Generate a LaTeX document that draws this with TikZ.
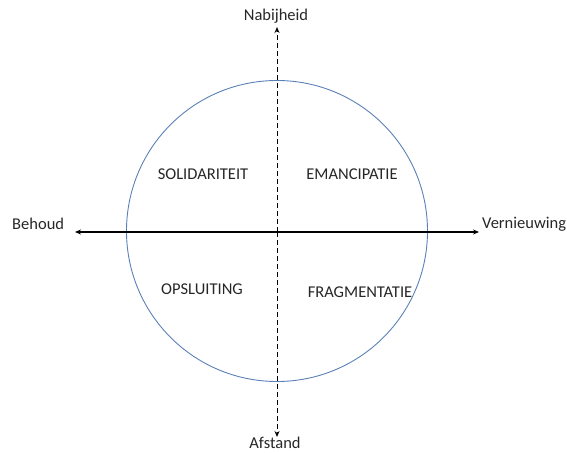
\documentclass[tikz,border=0pt]{standalone}
\usepackage{fontspec}
\setmainfont{Carlito}
\usetikzlibrary{arrows.meta}
\definecolor{circblue}{RGB}{90,128,184}
\tikzset{
  lbl/.style={font=\fontsize{16.5}{19}\selectfont, inner sep=0pt, text=black!85},
  quad/.style={font=\fontsize{16.5}{19}\selectfont, inner sep=0pt, text=black!85},
  axis/.style={line width=1.1pt, -{Stealth[length=6pt,width=5pt]}},
}
\begin{document}
\begin{tikzpicture}[x=1pt,y=-1pt]
\useasboundingbox (0,0) rectangle (567,452);
\node[draw=circblue, line width=0.9pt, circle, minimum size=301pt, inner sep=0pt] (c) at (277,231) {};
\coordinate (o) at (277,232);
\node[lbl] (nab) at (276,16) {Nabijheid};
\node[lbl] (afs) at (275,443) {Afstand};
\node[lbl, anchor=west] (beh) at (12,224) {Behoud};
\node[lbl, anchor=west] (ver) at (482,224) {Vernieuwing};
\coordinate (top) at (277,27);
\coordinate (bot) at (277,437);
\coordinate (left) at (75,232);
\coordinate (right) at (479,232);
\draw[axis] (o) -- (left);
\draw[axis] (o) -- (right);
\draw[axis, line width=1pt, dashed, dash pattern=on 5pt off 3pt] (o) -- (top);
\draw[axis, line width=1pt, dashed, dash pattern=on 5pt off 3pt] (o) -- (bot);
\node[quad] (sol) at (203,174) {SOLIDARITEIT};
\node[quad] (ema) at (352,174) {EMANCIPATIE};
\node[quad] (ops) at (202,289) {OPSLUITING};
\node[quad] (fra) at (360,292) {FRAGMENTATIE};
\end{tikzpicture}
\end{document}
